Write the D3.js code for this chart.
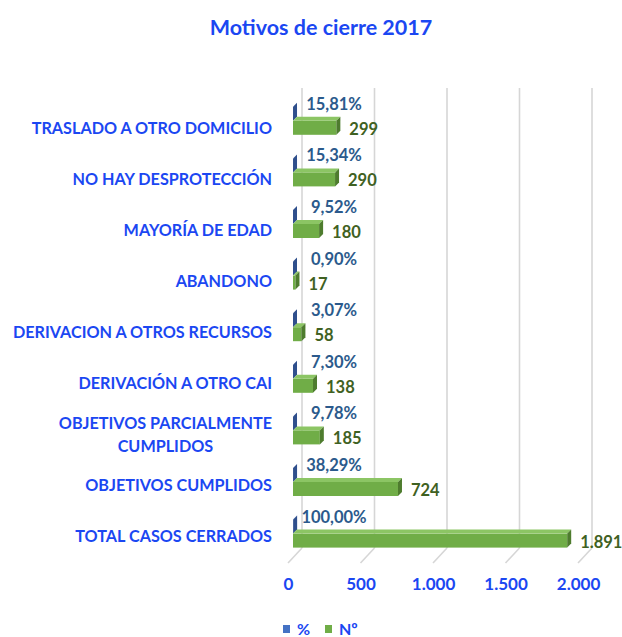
<!DOCTYPE html>
<html>
<head>
<meta charset="utf-8">
<script src="https://cdn.jsdelivr.net/npm/d3@7"></script>
<style>
  body { margin: 0; background: #fff; }
  svg text { font-family: Lato, "Open Sans", sans-serif; font-weight: 700; }
</style>
</head>
<body>
<div id="container"></div>
<script>
// chart values, top to bottom as drawn
var categories = [
    'TRASLADO A OTRO DOMICILIO',
    'NO HAY DESPROTECCIÓN',
    'MAYORÍA DE EDAD',
    'ABANDONO',
    'DERIVACION A OTROS RECURSOS',
    'DERIVACIÓN A OTRO CAI',
    'OBJETIVOS PARCIALMENTE CUMPLIDOS',
    'OBJETIVOS CUMPLIDOS',
    'TOTAL CASOS CERRADOS'
];
var counts = [299, 290, 180, 17, 58, 138, 185, 724, 1891];
var percents = [0.1581, 0.1534, 0.0952, 0.0090, 0.0307, 0.0730, 0.0978, 0.3829, 1.0];
var tickValues = [0, 500, 1000, 1500, 2000];
var seriesNames = ['%', 'Nº'];

var width = 622,
    height = 637;

var es = d3.formatLocale({ decimal: ',', thousands: '.', grouping: [3], currency: ['', ' €'] });
var fmtPct = es.format('.2%'),
    fmtNum = es.format(',d');

var blueLabel = '#1b47f2';

var svg = d3.select('div#container')
    .append('svg')
    .attr('width', width)
    .attr('height', height);

// one scale for the values, the 3d planes are just shifted copies of it
var x = d3.scaleLinear().domain([0, 2000]).range([0, 290]);
var barX0 = 293,   // plane where the bars sit
    wallX0 = 302,  // back wall
    frontX0 = 288; // front edge of the floor

var y = d3.scaleBand()
    .domain(categories)
    .range([94, 94 + 9 * 51.6]);

var depth = 4; // bar depth offset (right / up)

svg.append('text')
    .attr('x', 321)
    .attr('y', 27)
    .attr('text-anchor', 'middle')
    .attr('dominant-baseline', 'central')
    .style('font-size', '21.5px')
    .style('fill', blueLabel)
    .text('Motivos de cierre 2017');

// gridlines on the back wall, floor lines to the front
var grid = svg.append('g');
grid.selectAll('line.wall')
    .data(tickValues)
    .enter().append('line')
    .attr('class', 'wall')
    .attr('x1', function(d) { return wallX0 + x(d); })
    .attr('x2', function(d) { return wallX0 + x(d); })
    .attr('y1', 88)
    .attr('y2', 548)
    .attr('stroke', '#d6d6d6')
    .attr('stroke-width', 1.6);
grid.selectAll('line.floor')
    .data(tickValues)
    .enter().append('line')
    .attr('class', 'floor')
    .attr('x1', function(d) { return wallX0 + x(d); })
    .attr('x2', function(d) { return frontX0 + x(d); })
    .attr('y1', 548)
    .attr('y2', 563)
    .attr('stroke', '#d6d6d6')
    .attr('stroke-width', 1.6);

function center(i) { return y(categories[i]) + y.bandwidth() / 2; }

// one 3d box: front, top, side
function box(g, x1, top, bot, cols) {
    var x0 = barX0;
    g.append('rect')
        .attr('x', x0).attr('y', top)
        .attr('width', Math.max(0, x1 - x0)).attr('height', bot - top)
        .attr('fill', cols[0]);
    g.append('path')
        .attr('d', 'M' + x0 + ',' + top + 'L' + (x0 + depth) + ',' + (top - depth) +
            'L' + (x1 + depth) + ',' + (top - depth) + 'L' + x1 + ',' + top + 'Z')
        .attr('fill', cols[1]);
    g.append('path')
        .attr('d', 'M' + x1 + ',' + top + 'L' + (x1 + depth) + ',' + (top - depth) +
            'L' + (x1 + depth) + ',' + (bot - depth) + 'L' + x1 + ',' + bot + 'Z')
        .attr('fill', cols[2]);
}

var bars = svg.append('g');
categories.forEach(function(c, i) {
    var cy = center(i);
    var g = bars.append('g');
    box(g, barX0 + x(percents[i]), cy - 13, cy + 1, ['#4472c4', '#5b84cf', '#2f4f8c']);
    box(g, barX0 + x(counts[i]), cy + 1, cy + 15, ['#70ad47', '#8cc564', '#4e7c2e']);
});

// data labels
svg.append('g').selectAll('text')
    .data(percents)
    .enter().append('text')
    .attr('x', barX0 + 41)
    .attr('y', function(d, i) { return center(i) - 16; })
    .attr('text-anchor', 'middle')
    .attr('dominant-baseline', 'central')
    .style('font-size', '16.5px')
    .style('fill', '#2b5a8c')
    .text(function(d) { return fmtPct(d); });

svg.append('g').selectAll('text')
    .data(counts)
    .enter().append('text')
    .attr('x', function(d) { return barX0 + x(d) + 13; })
    .attr('y', function(d, i) { return center(i) + 9; })
    .attr('dominant-baseline', 'central')
    .style('font-size', '16.5px')
    .style('fill', '#3f6122')
    .text(function(d) { return fmtNum(d); });

// category labels, long one wraps into two centred lines
var labelRight = 272;
var wrapped = {
    'OBJETIVOS PARCIALMENTE CUMPLIDOS': ['OBJETIVOS PARCIALMENTE', 'CUMPLIDOS']
};
categories.forEach(function(c, i) {
    var lines = wrapped[c] || [c];
    var cy = center(i) + 8 - i * 0.6;
    var t = svg.append('text')
        .style('font-size', '16.2px')
        .style('fill', blueLabel)
        .attr('dominant-baseline', 'central');
    if (lines.length === 1) {
        t.attr('x', labelRight).attr('y', cy).attr('text-anchor', 'end').text(c);
    } else {
        t.attr('text-anchor', 'middle');
        lines.forEach(function(l, k) {
            t.append('tspan')
                .attr('y', cy + (k - (lines.length - 1) / 2) * 23)
                .text(l);
        });
        var w = d3.max(t.selectAll('tspan').nodes(), function(n) { return n.getComputedTextLength(); });
        t.selectAll('tspan').attr('x', labelRight - w / 2);
    }
});

// value axis along the front of the floor
var axis = svg.append('g')
    .attr('transform', 'translate(' + frontX0 + ',575)')
    .call(d3.axisBottom(x).tickValues(tickValues).tickSize(0).tickPadding(0)
        .tickFormat(function(d) { return fmtNum(d); }));
axis.select('.domain').remove();
axis.selectAll('text')
    .attr('dy', null)
    .attr('y', 8)
    .attr('dominant-baseline', 'central')
    .style('font-family', 'Lato, sans-serif')
    .style('font-weight', 700)
    .style('font-size', '17px')
    .style('fill', blueLabel);

// legend
var legend = svg.append('g').attr('transform', 'translate(283,628)');
var lx = [0, 42];
seriesNames.forEach(function(s, i) {
    legend.append('rect')
        .attr('x', lx[i]).attr('y', -3)
        .attr('width', 7).attr('height', 8)
        .attr('fill', i === 0 ? '#4472c4' : '#70ad47');
    legend.append('text')
        .attr('x', lx[i] + 14).attr('y', 0)
        .attr('dominant-baseline', 'central')
        .style('font-size', '16px')
        .style('fill', blueLabel)
        .text(s);
});
</script>
</body>
</html>
